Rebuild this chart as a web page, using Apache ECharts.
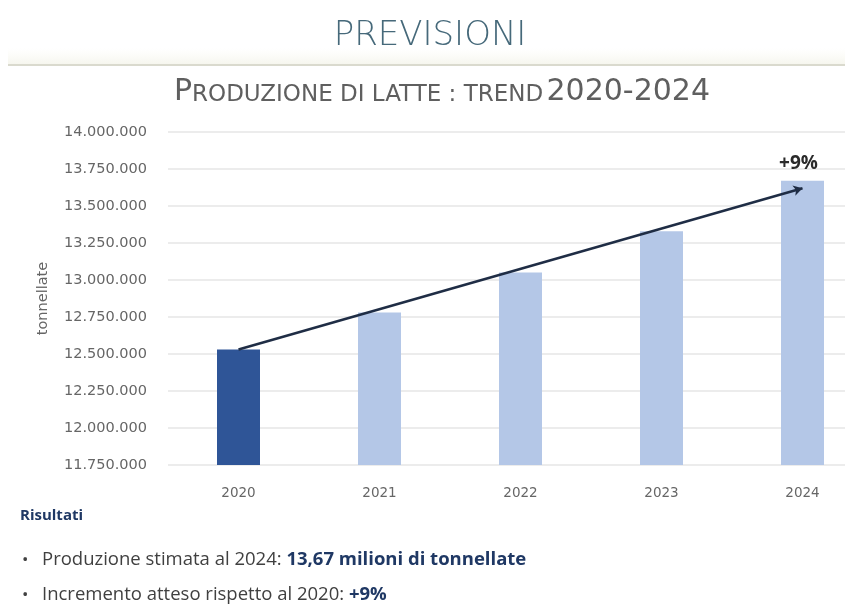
<!DOCTYPE html>
<html>
<head>
<meta charset="utf-8">
<script src="https://cdn.jsdelivr.net/npm/echarts@6/dist/echarts.min.js"></script>
<style>
html,body{margin:0;padding:0;background:#fff;width:845px;height:608px;overflow:hidden;}
#chart{width:874px;height:608px;}
</style>
</head>
<body>
<div id="chart"></div>
<script>
// ---- data ----
const categories = ['2020', '2021', '2022', '2023', '2024'];
const production = [12530000, 12780000, 13050000, 13330000, 13670000];
const yMin = 11750000;
const yMax = 14000000;
const yInterval = 250000;
const trendFrom = [0, 12530000];   // [category index, value]
const trendTo = [4, 13620000];
const trendLabel = '+9%';
const highlightIndex = 0;

const pageTitle = 'PREVISIONI';
const subtitleParts = ['P', 'RODUZIONE DI LATTE : TREND', '2020-2024'];
const yAxisName = 'tonnellate';
const resultsTitle = 'Risultati';
const bullet1 = ['Produzione stimata al 2024: ', '13,67 milioni di tonnellate'];
const bullet2 = ['Incremento atteso rispetto al 2020: ', '+9%'];

// ---- chart ----
const chart = echarts.init(document.getElementById('chart'));
const fmt = v => String(Math.round(v)).replace(/\B(?=(\d{3})+(?!\d))/g, '.');
const axisFont = '"DejaVu Sans", sans-serif';
const headFont = '"DejaVu Sans Light", "DejaVu Sans", sans-serif';
const subFont = '"DejaVu Sans", sans-serif';

const barData = production.map((v, i) => ({
  value: v,
  itemStyle: { color: i === highlightIndex ? '#2f5597' : '#b4c7e7' }
}));

const option = {
  backgroundColor: '#ffffff',
  animation: false,
  grid: { left: 168, top: 132, width: 705, height: 333 },
  xAxis: {
    type: 'category',
    data: categories,
    axisLine: { show: false },
    axisTick: { show: false },
    axisLabel: { color: '#666666', fontFamily: axisFont, fontSize: 13.5, margin: 21 }
  },
  yAxis: {
    type: 'value',
    min: yMin, max: yMax, interval: yInterval,
    name: yAxisName,
    nameLocation: 'middle',
    nameGap: 117,
    nameRotate: 90,
    nameTextStyle: { color: '#666666', fontFamily: axisFont, fontSize: 14.5 },
    axisLine: { show: false },
    axisTick: { show: false },
    axisLabel: { color: '#666666', fontFamily: axisFont, fontSize: 14.5, margin: 21, formatter: fmt },
    splitLine: { lineStyle: { color: '#e6e6e6', width: 1.5 } }
  },
  series: [{
    type: 'bar',
    data: barData,
    barWidth: 43,
    markLine: {
      silent: true,
      symbol: ['none', 'arrow'],
      symbolSize: [8, 9],
      lineStyle: { color: '#1f2d45', width: 2.5, type: 'solid' },
      label: { show: false },
      data: [[{ coord: trendFrom }, { coord: trendTo }]]
    },
    markPoint: {
      silent: true,
      symbol: 'circle',
      symbolSize: 1,
      itemStyle: { color: 'rgba(0,0,0,0)' },
      label: {
        show: true, position: 'top', distance: 7, offset: [-4, 0],
        formatter: trendLabel,
        color: '#2a2a2a', fontFamily: 'Open Sans', fontWeight: 'bold', fontSize: 19
      },
      data: [{ coord: [trendTo[0], production[trendTo[0]]] }]
    }
  }],
  graphic: [
    { type: 'rect', shape: { x: 8, y: 48, width: 866, height: 16 },
      style: { fill: new echarts.graphic.LinearGradient(0, 0, 0, 1, [
        { offset: 0, color: 'rgba(250,250,244,0)' }, { offset: 1, color: 'rgba(246,246,238,1)' }]) } },
    { type: 'line', shape: { x1: 8, y1: 65, x2: 874, y2: 65 },
      style: { stroke: '#dadace', lineWidth: 2 } },
    { type: 'text', x: 430, y: 36,
      style: { text: pageTitle, fill: '#46697a', font: '200 34px ' + headFont,
               textAlign: 'center', textVerticalAlign: 'middle' } },
    { type: 'text', x: 442, y: 92,
      style: {
        text: '{b|' + subtitleParts[0] + '}{s|' + subtitleParts[1] + '} {b|' + subtitleParts[2] + '}',
        textAlign: 'center', textVerticalAlign: 'middle',
        rich: {
          b: { fontSize: 30, fontFamily: subFont, fill: '#5f5f5f', color: '#5f5f5f', lineHeight: 30, verticalAlign: 'bottom' },
          s: { fontSize: 23, fontFamily: subFont, fill: '#5f5f5f', color: '#5f5f5f', lineHeight: 23, verticalAlign: 'bottom' }
        }
      } },
    { type: 'text', x: 20, y: 516,
      style: { text: resultsTitle, fill: '#1f3864', font: 'bold 15px "Open Sans", sans-serif',
               textAlign: 'left', textVerticalAlign: 'middle' } },
    { type: 'text', x: 22, y: 560,
      style: { text: '•', fill: '#404040', font: '17px "Open Sans", sans-serif', textVerticalAlign: 'middle' } },
    { type: 'text', x: 42, y: 560,
      style: {
        text: '{r|' + bullet1[0] + '}{k|' + bullet1[1] + '}',
        textVerticalAlign: 'middle',
        rich: {
          r: { fontSize: 18.5, fontFamily: 'Open Sans', fill: '#404040', color: '#404040' },
          k: { fontSize: 18.5, fontFamily: 'Open Sans', fontWeight: 'bold', fill: '#1f3864', color: '#1f3864' }
        }
      } },
    { type: 'text', x: 22, y: 595,
      style: { text: '•', fill: '#404040', font: '17px "Open Sans", sans-serif', textVerticalAlign: 'middle' } },
    { type: 'text', x: 42, y: 595,
      style: {
        text: '{r|' + bullet2[0] + '}{k|' + bullet2[1] + '}',
        textVerticalAlign: 'middle',
        rich: {
          r: { fontSize: 18.5, fontFamily: 'Open Sans', fill: '#404040', color: '#404040' },
          k: { fontSize: 18.5, fontFamily: 'Open Sans', fontWeight: 'bold', fill: '#1f3864', color: '#1f3864' }
        }
      } }
  ]
};
chart.setOption(option);
</script>
</body>
</html>
